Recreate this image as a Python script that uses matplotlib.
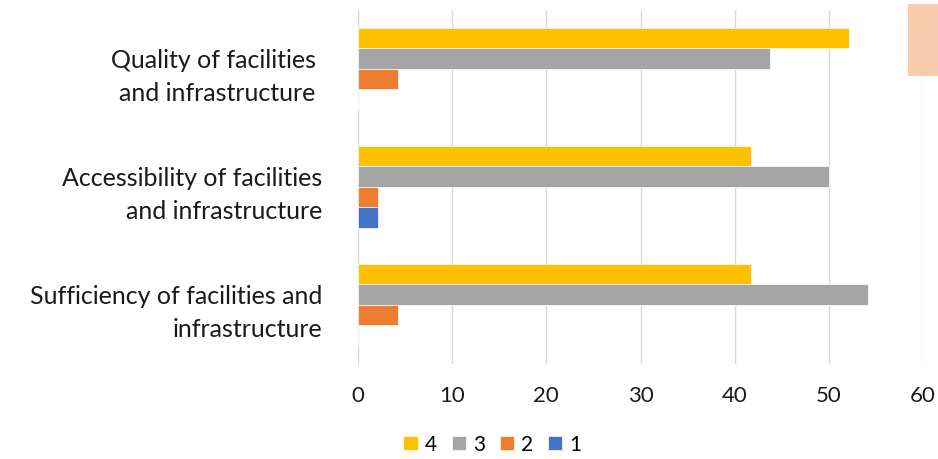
import numpy as np
import matplotlib.pyplot as plt
from matplotlib.patches import Rectangle

plt.rcParams['font.family'] = ['Lato', 'DejaVu Sans']

# Shares of responses (percent) per rating
categories = ["Quality of facilities \nand infrastructure ",
              "Accessibility of facilities\nand infrastructure",
              "Sufficiency of facilities and\ninfrastructure"]
series_names = ["4", "3", "2", "1"]
rating_4 = [52.1, 41.7, 41.7]
rating_3 = [43.8, 50.0, 54.2]
rating_2 = [4.2, 2.1, 4.2]
rating_1 = [0.0, 2.1, 0.0]
xticks = [0, 10, 20, 30, 40, 50, 60]

colors = ["#FFC000", "#A5A5A5", "#ED7D31", "#4472C4"]

fig = plt.figure(figsize=(9.38, 4.6), dpi=100)
ax = fig.add_axes([0.3817, 0.2065, 0.6023, 0.7705])
ax.patch.set_alpha(0)

# stray shape at the top right of the original (drawn behind the grid)
fig.patches.append(Rectangle((908 / 938, 1 - 77 / 460), 30 / 938, 72 / 460,
                             transform=fig.transFigure, facecolor="#F8CBAD",
                             edgecolor="none", zorder=-1))

y = np.arange(len(categories))
h = 0.174
for k, (vals, c, name) in enumerate(zip([rating_4, rating_3, rating_2, rating_1],
                                        colors, series_names)):
    ax.barh(y + (k - 1.5) * h, vals, height=h, color=c, label=name,
            edgecolor="white", linewidth=0.5, zorder=2)

ax.set_xlim(0, 60)
ax.set_ylim(2.5, -0.5)
ax.set_xticks(xticks)
ax.set_yticks(y)
ax.set_yticklabels(categories, fontsize=18, ha="right", linespacing=1.55,
                   color="#1a1a1a")
ax.tick_params(axis="x", labelsize=16, length=0, pad=15, labelcolor="#1a1a1a")
ax.tick_params(axis="y", length=0, pad=26)
ax.grid(axis="x", color="#D9D9D9", linewidth=1.0, zorder=0)
ax.set_axisbelow(True)
for s in ax.spines.values():
    s.set_visible(False)

fig.legend(loc="center", bbox_to_anchor=(0.525, 1 - 445 / 460), ncol=4,
           frameon=False, fontsize=15, handlelength=0.68, handleheight=0.68,
           handletextpad=0.35, columnspacing=0.7)

fig.savefig("out.png", dpi=100)
